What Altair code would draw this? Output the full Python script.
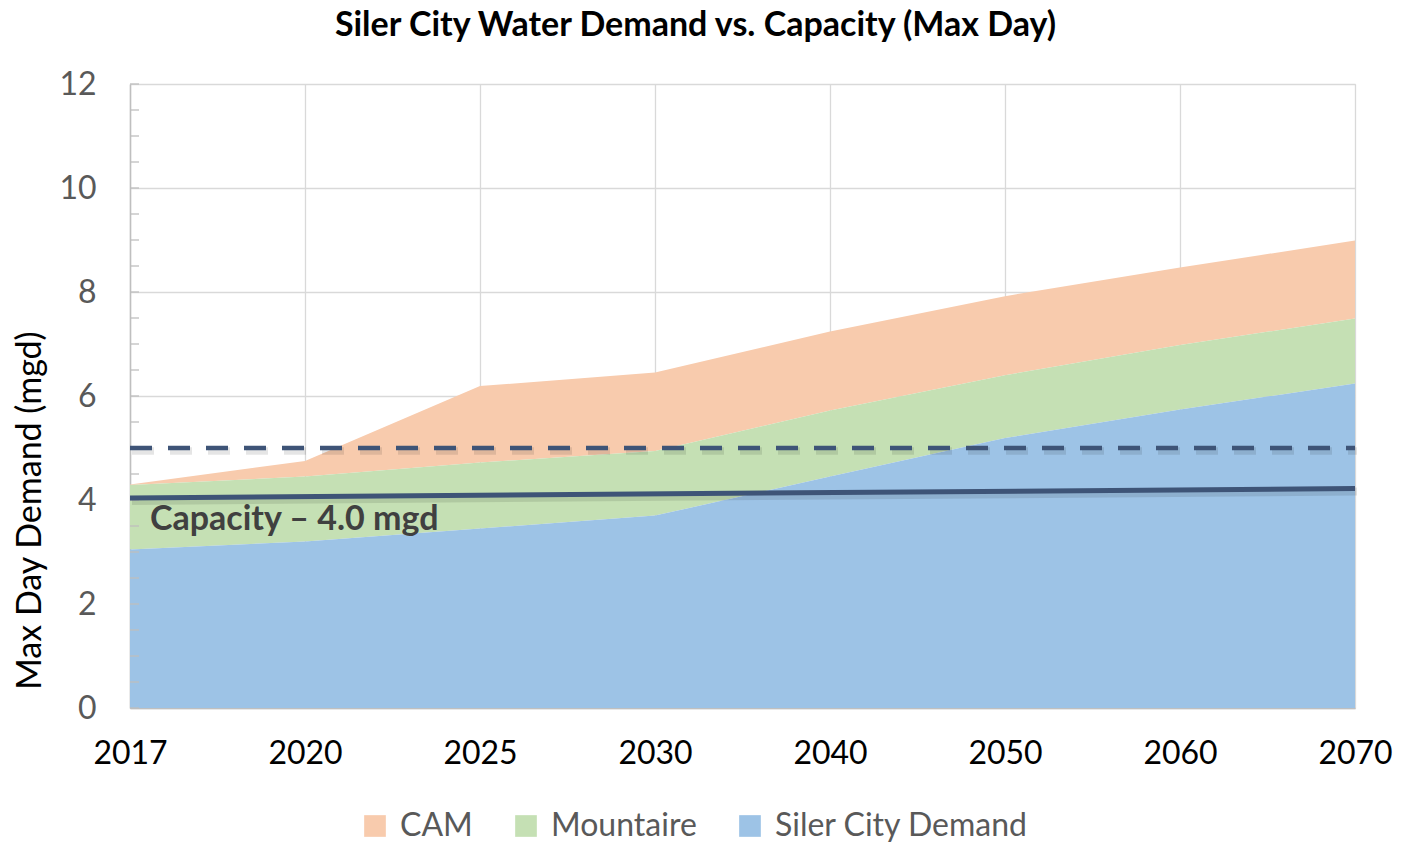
import altair as alt
import pandas as pd

# ---- data ----
years = ["2017", "2020", "2025", "2030", "2040", "2050", "2060", "2070"]
siler_city = [3.05, 3.20, 3.45, 3.70, 4.45, 5.19, 5.74, 6.24]
mountaire = [1.24, 1.25, 1.27, 1.24, 1.27, 1.21, 1.24, 1.25]
cam = [0.01, 0.30, 1.47, 1.51, 1.52, 1.52, 1.49, 1.50]

series_names = ["CAM", "Mountaire", "Siler City Demand"]
series_colors = ["#F8CBAD", "#C5E0B4", "#9DC3E6"]
stack_rank = [2, 1, 0]  # Siler City at the base, CAM on top

capacity_years = ["2017", "2070"]
capacity_values = [4.04, 4.22]
future_years = ["2017", "2070"]
future_values = [5.0, 5.0]

label_text = ["Capacity – 4.0 mgd"]
label_year = ["2017"]
label_value = [3.62]

y_major = [0, 2, 4, 6, 8, 10, 12]
y_minor = [0, 0.5, 1, 1.5, 2, 2.5, 3, 3.5, 4, 4.5, 5, 5.5, 6, 6.5, 7, 7.5,
           8, 8.5, 9, 9.5, 10, 10.5, 11, 11.5, 12]

FONT = "Lato"
LINE = "#3E5477"

# ---- tables ----
vals = {"CAM": cam, "Mountaire": mountaire, "Siler City Demand": siler_city}
rows = []
for name, rank in zip(series_names, stack_rank):
    for y, v in zip(years, vals[name]):
        rows.append({"year": y, "series": name, "value": v, "rank": rank})
df = pd.DataFrame(rows)
cap_df = pd.DataFrame({"year": capacity_years, "value": capacity_values})
fut_df = pd.DataFrame({"year": future_years, "value": future_values})
lab_df = pd.DataFrame({"year": label_year, "value": label_value, "text": label_text})
minor_df = pd.DataFrame({"value": y_minor})

xscale = alt.Scale(type="point", domain=years, padding=0)
yscale = alt.Scale(domain=[0, 12], nice=False, zero=True)

x_enc = alt.X(
    "year:O", scale=xscale, title=None,
    axis=alt.Axis(
        labelAngle=0, labelFont=FONT, labelFontSize=32, labelColor="#000000",
        labelPadding=30, ticks=False, domainColor="#BFBFBF", domainWidth=1.5,
        grid=True, gridColor="#D9D9D9", gridWidth=1.3,
    ),
)
y_enc = alt.Y(
    "value:Q", scale=yscale, stack="zero",
    title="Max Day Demand (mgd)",
    axis=alt.Axis(
        values=y_major, labelFont=FONT, labelFontSize=32, labelColor="#595959",
        labelPadding=34, ticks=False, domainColor="#BFBFBF", domainWidth=1.5,
        grid=True, gridColor="#D9D9D9", gridWidth=1.3,
        titleFont=FONT, titleFontSize=34, titleFontWeight="normal",
        titleColor="#000000", titleAngle=270, titleAlign="center",
        titleBaseline="middle", titleX=-100, titleY=426,
    ),
)

areas = alt.Chart(df).mark_area(opacity=1).encode(
    x=x_enc,
    y=y_enc,
    color=alt.Color(
        "series:N",
        scale=alt.Scale(domain=series_names, range=series_colors),
        title=None,
        legend=alt.Legend(
            orient="none", direction="horizontal", legendX=229, legendY=726,
            symbolType="square", symbolSize=470, symbolStrokeWidth=0,
            symbolOpacity=1, labelFont=FONT, labelFontSize=32, labelLimit=0,
            labelColor="#595959", labelOffset=9, columnPadding=37, padding=0,
        ),
    ),
    order=alt.Order("rank:Q", sort="ascending"),
)

minor_ticks = alt.Chart(minor_df).mark_rule(color="#BFBFBF", strokeWidth=1.3).encode(
    x=alt.value(0), x2=alt.value(9),
    y=alt.Y("value:Q", scale=yscale),
)

def seg(data, dash=None, width=5):
    shadow_kw = dict(color="#000000", opacity=0.1, strokeWidth=width + 3,
                     xOffset=2, yOffset=3, strokeCap="butt")
    main_kw = dict(color=LINE, strokeWidth=width, strokeCap="butt")
    if dash:
        shadow_kw["strokeDash"] = dash
        main_kw["strokeDash"] = dash
    enc = dict(x=alt.X("year:O", scale=xscale), y=alt.Y("value:Q", scale=yscale))
    return (alt.Chart(data).mark_line(**shadow_kw).encode(**enc)
            + alt.Chart(data).mark_line(**main_kw).encode(**enc))

cap_line = seg(cap_df, width=5)
fut_line = seg(fut_df, dash=[22, 16], width=4.5)

label = alt.Chart(lab_df).mark_text(
    font=FONT, fontSize=34, fontWeight="bold", color="#404040",
    align="left", baseline="middle", dx=20,
).encode(
    x=alt.X("year:O", scale=xscale),
    y=alt.Y("value:Q", scale=yscale),
    text="text:N",
)

chart = alt.layer(areas, minor_ticks, fut_line, cap_line, label).properties(
    width=1225, height=624,
    title=alt.TitleParams(
        "Siler City Water Demand vs. Capacity (Max Day)",
        font=FONT, fontSize=34, fontWeight="bold", color="#000000",
        anchor="middle", dx=-47, offset=25,
    ),
    autosize=alt.AutoSizeParams(type="none"),
    padding={"left": 122, "top": 76, "right": 38, "bottom": 134},
).configure_view(stroke=None).configure(background="white")

chart.save("out.html", embed_options={"renderer": "svg", "actions": False})
